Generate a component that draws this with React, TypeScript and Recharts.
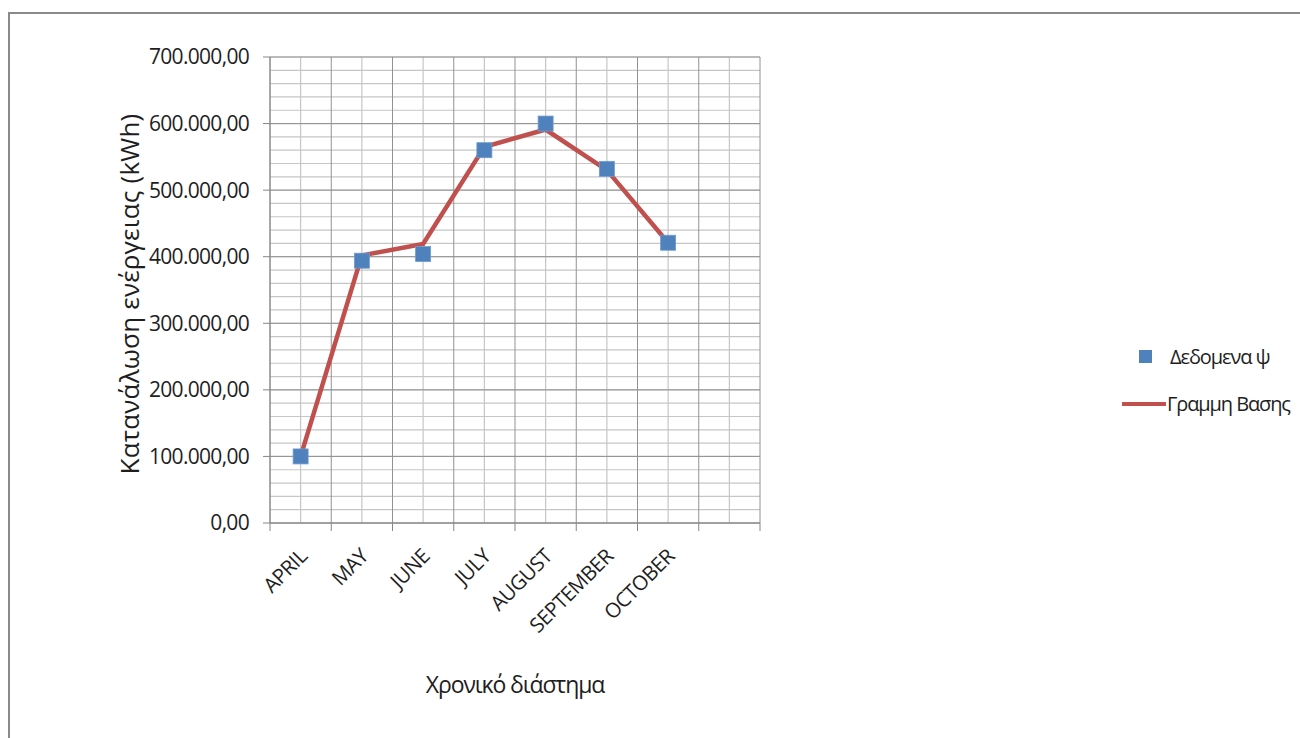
import React from "react"
import {
  ComposedChart,
  Line,
  Scatter,
  XAxis,
  YAxis,
  CartesianGrid,
  Legend,
  Label,
} from "recharts"

const months = ["APRIL", "MAY", "JUNE", "JULY", "AUGUST", "SEPTEMBER", "OCTOBER"]
const measuredValues = [100000, 394000, 404000, 560000, 600000, 532000, 421000]
const baselineValues = [100000, 402000, 419000, 565000, 591000, 530000, 421000]
const yTicks = [0, 100000, 200000, 300000, 400000, 500000, 600000, 700000]

const FONT = "'Open Sans', sans-serif"
const TEXT = "#1e1e1e"
const BLUE = "#4F81BD"
const RED = "#C0504D"

// each month sits in the middle of its slot, slots are 1 unit wide
const data = months.map((month, i) => ({
  x: i + 0.5,
  month,
  measured: measuredValues[i],
  baseline: baselineValues[i],
}))

const xTicks = Array.from({ length: 17 }, (_, i) => i / 2)
const majorX = Array.from({ length: 9 }, (_, i) => i)
const minorX = Array.from({ length: 8 }, (_, i) => i + 0.5)
const minorY = Array.from({ length: 36 }, (_, i) => i * 20000)

const formatKwh = (v: number) => {
  const whole = Math.round(v)
    .toString()
    .replace(/\B(?=(\d{3})+(?!\d))/g, ".")
  return whole + ",00"
}

const XTick = (props: any) => {
  const { x, y, payload } = props
  const value = payload.value
  if (Number.isInteger(value)) {
    return <line x1={x} x2={x} y1={y - 8} y2={y} stroke="#868686" strokeWidth={1} />
  }
  const item = data.find(d => d.x === value)
  if (!item) return null
  const ax = x + 2
  const ay = y + 21
  return (
    <text
      x={ax}
      y={ay}
      transform={`rotate(-45, ${ax}, ${ay})`}
      textAnchor="end"
      dominantBaseline="central"
      fontFamily={FONT}
      fontSize={20.5}
      letterSpacing={-0.6}
      fill={TEXT}
    >
      {item.month}
    </text>
  )
}

const YTitle = (props: any) => {
  const { viewBox } = props
  const cx = 129
  const cy = viewBox.y + viewBox.height / 2 + 4
  return (
    <text
      x={cx}
      y={cy}
      transform={`rotate(-90, ${cx}, ${cy})`}
      textAnchor="middle"
      dominantBaseline="central"
      fontFamily={FONT}
      fontSize={26}
      letterSpacing={0.2}
      fill={TEXT}
    >
      Κατανάλωση ενέργειας (kWh)
    </text>
  )
}

const SquareMarker = (props: any) => {
  const { cx, cy } = props
  if (cx == null || cy == null) return null
  return <rect x={cx - 7.5} y={cy - 7.5} width={15} height={15} fill={BLUE} stroke="#6f9bd0" strokeWidth={0.8} />
}

const LegendBox = (props: any) => {
  const items = [...(props.payload || [])].sort((a: any) => (a.type === "square" ? -1 : 1))
  return (
    <div style={{ fontFamily: FONT, fontSize: 20, letterSpacing: -1.1, color: TEXT }}>
      {items.map((entry: any) => (
        <div key={entry.value} style={{ display: "flex", alignItems: "center", height: 47 }}>
          <svg width={48} height={20} style={{ marginRight: 1 }}>
            {entry.type === "square" ? (
              <rect x={21} y={3} width={13} height={13} fill={BLUE} />
            ) : (
              <line x1={4} x2={48} y1={10} y2={10} stroke={RED} strokeWidth={4} />
            )}
          </svg>
          <span style={{ marginLeft: entry.type === "square" ? 3 : 0 }}>{entry.value}</span>
        </div>
      ))}
    </div>
  )
}

const App = () => {
  return (
    <div style={{ position: "absolute", left: 0, top: 0, width: 1300, height: 738, background: "#fff" }}>
      <div
        style={{
          position: "absolute",
          left: 8,
          top: 12,
          width: 1300,
          height: 740,
          borderLeft: "2px solid #8a8a8a",
          borderTop: "2px solid #8a8a8a",
        }}
      />
      <div style={{ position: "absolute", left: 0, top: 0 }}>
        <ComposedChart
          width={1300}
          height={738}
          data={data}
          margin={{ top: 57, right: 540, bottom: 0, left: 0 }}
        >
          <CartesianGrid stroke="#c6c6c6" strokeWidth={1.2} verticalValues={minorX} horizontalValues={minorY} />
          <CartesianGrid stroke="#929292" verticalValues={majorX} horizontalValues={yTicks} />
          <XAxis
            dataKey="x"
            type="number"
            domain={[0, 8]}
            ticks={xTicks}
            interval={0}
            height={215}
            tickLine={false}
            tickSize={8}
            tickMargin={0}
            axisLine={{ stroke: "#868686" }}
            tick={<XTick />}
          >
            <Label
              value="Χρονικό διάστημα"
              position="insideBottom"
              offset={45}
              style={{ fontFamily: FONT, fontSize: 23, letterSpacing: -1.1, fill: TEXT }}
            />
          </XAxis>
          <YAxis
            type="number"
            domain={[0, 700000]}
            ticks={yTicks}
            interval={0}
            width={270}
            tickSize={7}
            tickMargin={14}
            tickFormatter={formatKwh}
            tick={{ fontFamily: FONT, fontSize: 21, letterSpacing: -0.7, fill: TEXT }}
            tickLine={{ stroke: "#868686" }}
            axisLine={{ stroke: "#868686" }}
          >
            <Label content={<YTitle />} />
          </YAxis>
          <Line
            dataKey="baseline"
            name="Γραμμη Βασης"
            stroke={RED}
            strokeWidth={4.5}
            dot={false}
            activeDot={false}
            legendType="line"
            isAnimationActive={false}
          />
          <Scatter
            dataKey="measured"
            name="Δεδομενα ψ"
            fill={BLUE}
            shape={<SquareMarker />}
            legendType="square"
            isAnimationActive={false}
          />
          <Legend
            layout="horizontal"
            verticalAlign="middle"
            align="center"
            content={<LegendBox />}
            wrapperStyle={{ left: 1118, top: 333, width: 182 }}
          />
        </ComposedChart>
      </div>
    </div>
  )
}

export default App
